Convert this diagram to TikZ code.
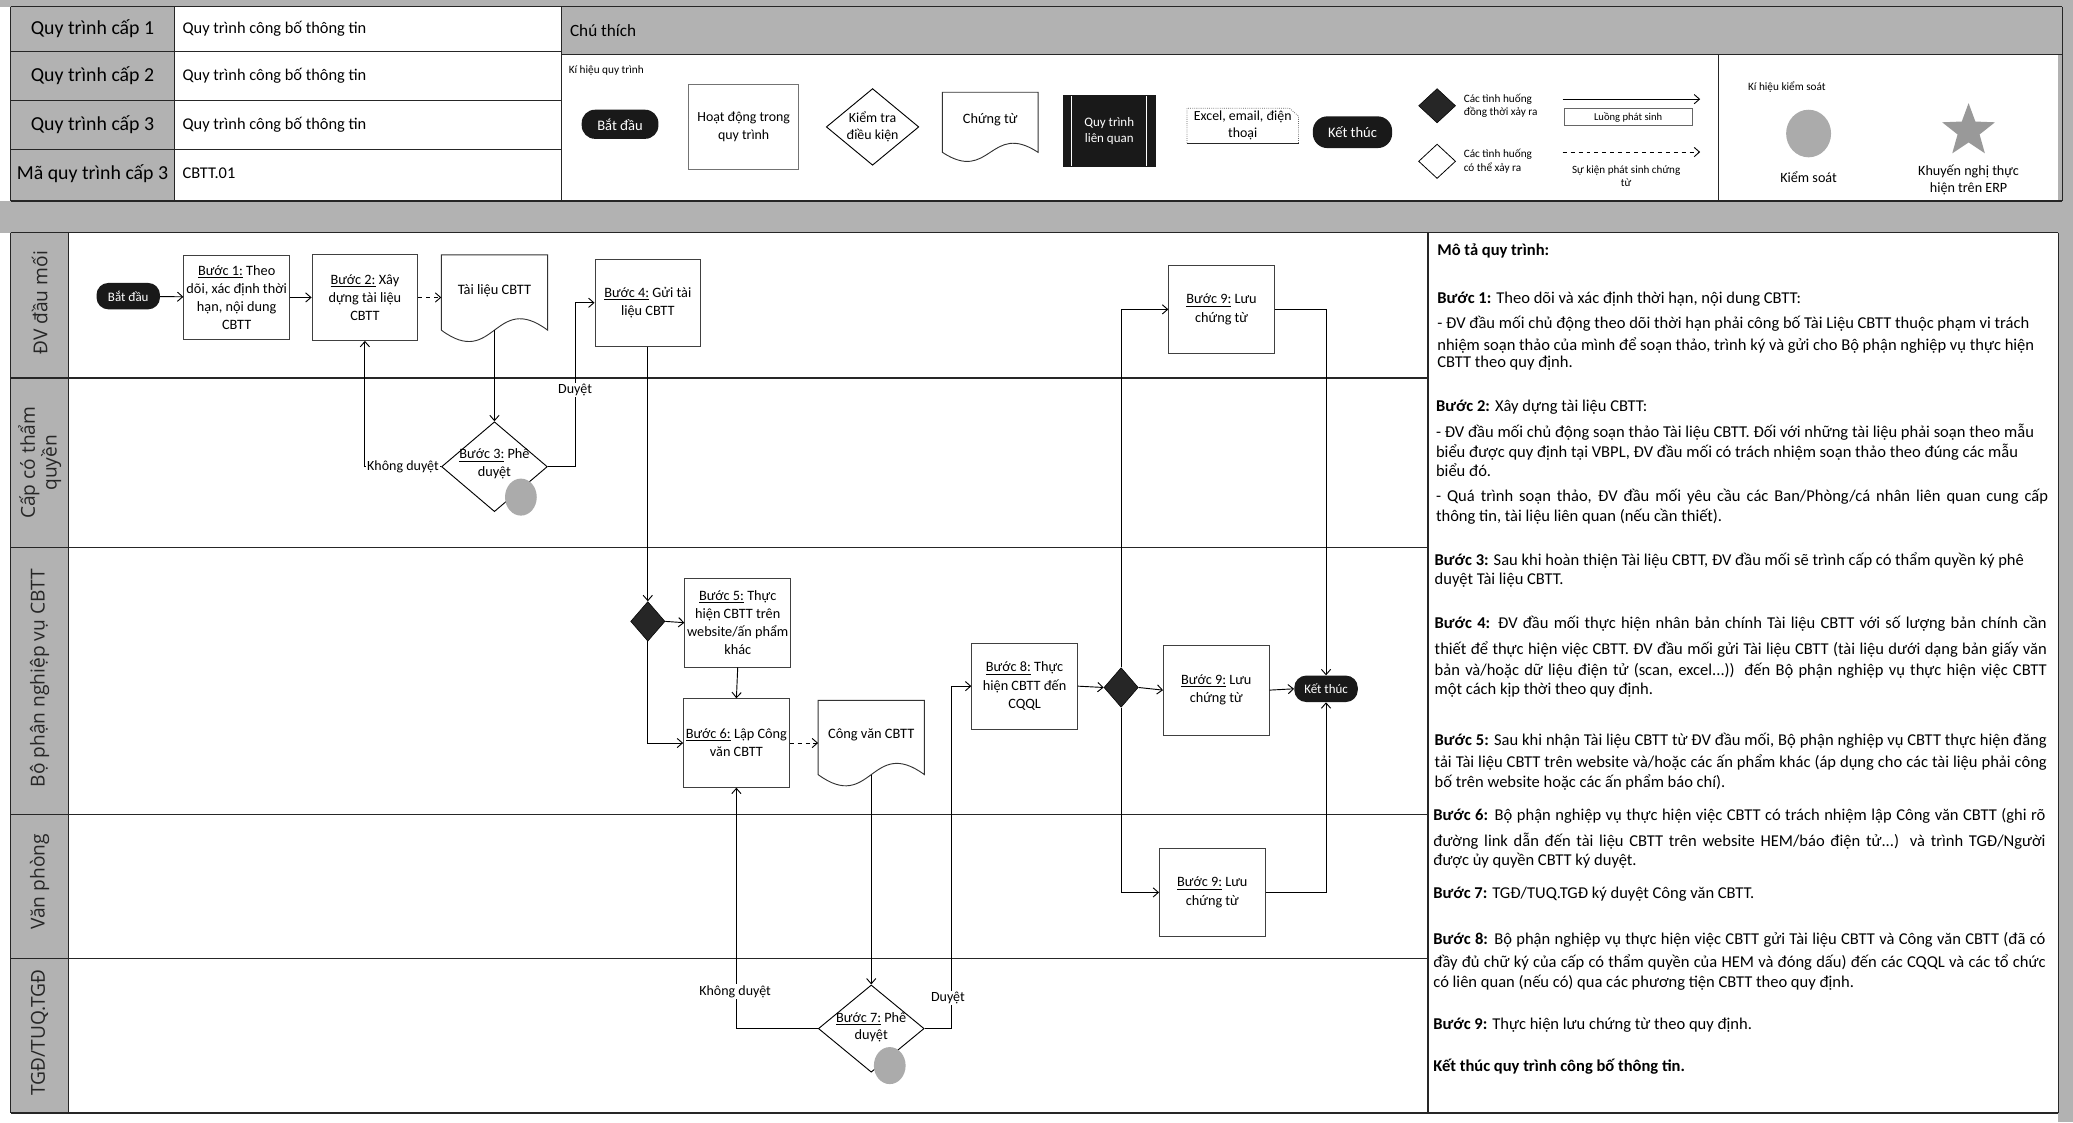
\documentclass[tikz,border=0pt]{standalone}
\usepackage{fontspec}
\setmainfont{Carlito}
\newfontfamily\lanefont{Open Sans}
\usetikzlibrary{shapes.geometric,arrows.meta,calc}
\newcommand\docshape[1]{%
  \filldraw[docline] (#1.north west) -- (#1.north east) -- ($(#1.south east)!0.18!(#1.north east)$)
    .. controls ($(#1.south)!0.61!(#1.north)$) and ($(#1.south)!-0.25!(#1.north)$) ..
    ($(#1.south west)!0.18!(#1.north west)$) -- cycle;}
\newcommand\jl[1]{\makebox[463pt][s]{#1}}
\begin{document}
\begin{tikzpicture}[x=1pt,y=-1pt,
  every node/.style={inner sep=0pt},
  graybg/.style={fill=black!30},
  grid/.style={draw=black!85, line width=0.9pt},
  lane/.style={draw=black!85, line width=1.1pt},
  box/.style={draw=black!75, line width=0.6pt, fill=white, minimum width=80pt, minimum height=66pt, align=center, font=\fontsize{10.8}{13.8}\selectfont},
  term/.style={fill=black!90, rounded corners=9pt, minimum width=48pt, minimum height=20pt, text=white, font=\fontsize{9.8}{10}\selectfont},
  dec/.style={draw=black, line width=0.7pt, fill=white, shape=diamond, minimum width=80pt, minimum height=68pt},
  dectext/.style={align=center, font=\fontsize{10.8}{13.5}\selectfont},
  bdec/.style={draw=black, fill=black!85, shape=diamond, minimum width=26pt, minimum height=30pt},
  docline/.style={draw=black!80, line width=0.7pt, fill=white},
  docbox/.style={minimum width=80pt, minimum height=68pt},
  flow/.style={line width=0.7pt, -{Straight Barb[length=4pt,width=7pt]}},
  dflow/.style={flow, dashed},
  lbl/.style={fill=white, inner sep=1pt, font=\fontsize{10.6}{11}\selectfont},
  ctrl/.style={ellipse, fill=black!33, minimum width=24pt, minimum height=28pt},
  hlab/.style={font=\fontsize{15}{17}\selectfont},
  hval/.style={anchor=west, font=\fontsize{12.4}{14}\selectfont},
  lanelab/.style={rotate=90, align=center, text=black!85, font=\lanefont\fontsize{14.5}{16.5}\selectfont},
  small/.style={font=\fontsize{8.5}{10.5}\selectfont, align=left},
  desc/.style={anchor=west, font=\fontsize{12.5}{14}\selectfont}
]
\useasboundingbox (0,0) rectangle (1568,849);
\fill[white] (0,0) rectangle (1568,849);
% gray regions
\fill[graybg] (0,0) rectangle (1568,5);
\fill[graybg] (0,152) rectangle (1568,176);
\fill[graybg] (8,5) rectangle (132,152);
\fill[graybg] (425,5) rectangle (1560,41);
\fill[graybg] (1557,0) rectangle (1568,849);
\fill[graybg] (8,176) rectangle (52,842);
% header grid
\draw[grid] (8,5) -- (1560,5);
\draw[grid] (8,39) -- (425,39);
\draw[grid] (425,41) -- (1560,41);
\draw[grid] (8,76) -- (425,76);
\draw[grid] (8,113) -- (425,113);
\draw[grid] (8,152) -- (1560,152);
\draw[grid] (8,5) -- (8,152);
\draw[grid] (132,5) -- (132,152);
\draw[grid] (425,5) -- (425,152);
\draw[grid] (1560,5) -- (1560,152);
\draw[grid] (1300,41) -- (1300,152);
% header texts
\node[hlab] (h1) at (70,22) {Quy trình cấp 1};
\node[hlab] (h2) at (70,57.5) {Quy trình cấp 2};
\node[hlab] (h3) at (70,94.5) {Quy trình cấp 3};
\node[hlab] (h4) at (70,131) {Mã quy trình cấp 3};
\node[hval] (v1) at (138,22) {Quy trình công bố thông tin};
\node[hval] (v2) at (138,57.5) {Quy trình công bố thông tin};
\node[hval] (v3) at (138,94.5) {Quy trình công bố thông tin};
\node[hval] (v4) at (138,131) {CBTT.01};
\node[hval, font=\fontsize{13}{15}\selectfont] (chuthich) at (431,23) {Chú thích};
% legend
\node[small, anchor=west] (kqt) at (430,53) {Kí hiệu quy trình};
\node[term, minimum width=58pt, minimum height=22pt, rounded corners=10pt, font=\fontsize{11}{12}\selectfont] (lgstart) at (469,94) {Bắt đầu};
\node[box, draw=black!55, line width=0.5pt, minimum width=83pt, minimum height=64pt, font=\fontsize{10.5}{13.5}\selectfont] (lgact) at (562.5,96) {Hoạt động trong\\quy trình};
\node[dec, minimum width=70pt, minimum height=58pt] (lgdec) at (660,96) {};
\node[dectext, font=\fontsize{10.5}{13}\selectfont] (lgdect) at (660,96) {Kiểm tra\\điều kiện};
\node[docbox, minimum width=72pt, minimum height=55pt] (lgdoc) at (749,97.5) {};
\docshape{lgdoc}
\node[font=\fontsize{10.8}{12}\selectfont] (lgdoct) at ($(lgdoc.north)+(0,21)$) {Chứng từ};
\node[fill=black!90, minimum width=70pt, minimum height=54pt, text=white, align=center, font=\fontsize{9.8}{12.5}\selectfont] (lgrel) at (839,99) {Quy trình\\liên quan};
\draw[white, line width=0.8pt] ($(lgrel.north west)+(7,1)$) -- ($(lgrel.south west)+(7,-1)$);
\draw[white, line width=0.8pt] ($(lgrel.north east)+(-7,1)$) -- ($(lgrel.south east)+(-7,-1)$);
\node[minimum width=84pt, minimum height=26pt, align=center, font=\fontsize{10.5}{12.5}\selectfont] (lgxl) at (940,95) {Excel, email, điện\\thoại};
\draw[black!60, densely dotted, line width=0.6pt] (lgxl.south west) -- (lgxl.north west) -- ($(lgxl.north east)+(-7,0)$) -- ($(lgxl.north east)+(0,6)$) -- (lgxl.south east);
\draw[black!85, line width=0.8pt] (lgxl.south west) -- (lgxl.south east);
\node[term, minimum width=60pt, minimum height=24pt, rounded corners=11pt, font=\fontsize{11}{12}\selectfont] (lgend) at (1023,100) {Kết thúc};
\node[bdec, minimum width=28pt, minimum height=26pt] (lgbd) at (1087,80) {};
\node[small, anchor=west] (lgbdt) at (1107,80) {Các tình huống\\đồng thời xảy ra};
\node[draw=black, line width=0.6pt, fill=white, shape=diamond, minimum width=28pt, minimum height=26pt] (lgwd) at (1087,122) {};
\node[small, anchor=west] (lgwdt) at (1107,122) {Các tình huống\\có thể xảy ra};
\coordinate (la1) at (1182,75); \coordinate (la2) at (1286,75);
\draw[flow] (la1) -- (la2);
\node[draw=black!60, line width=0.5pt, minimum width=97pt, minimum height=13pt, font=\fontsize{8}{9}\selectfont] (lgls) at (1231.5,88.5) {Luồng phát sinh};
\coordinate (lb1) at (1182,115); \coordinate (lb2) at (1286,115);
\draw[dflow] (lb1) -- (lb2);
\node[align=center, font=\fontsize{8.4}{10}\selectfont] (lgsk) at (1230,133) {Sự kiện phát sinh chứng\\từ};
\node[small, anchor=west] (khks) at (1322,66) {Kí hiệu kiểm soát};
\node[ctrl, minimum width=34pt, minimum height=36pt] (lgk) at (1368,101) {};
\node[font=\fontsize{10.7}{12}\selectfont] (lgkt) at (1368,134) {Kiểm soát};
\node[star, star points=5, star point ratio=2.4, fill=black!40, minimum size=42pt] (lgstar) at (1489,99) {};
\node[align=center, font=\fontsize{10.7}{12.5}\selectfont] (lgstart2) at (1489,136) {Khuyến nghị thực\\hiện trên ERP};
% lanes frame
\draw[lane] (8,176) -- (1557,176);
\draw[lane] (8,842) -- (1557,842);
\draw[lane] (8,176) -- (8,842);
\draw[lane] (52,176) -- (52,842);
\draw[lane] (1080,176) -- (1080,842);
\draw[lane] (1557,176) -- (1557,842);
\draw[lane] (8,286) -- (1080,286);
\draw[lane] (8,414) -- (1080,414);
\draw[lane] (8,616) -- (1080,616);
\draw[lane] (8,725) -- (1080,725);
\node[lanelab] (l1) at (30,229) {ĐV đầu mối};
\node[lanelab] (l2) at (30,350) {Cấp có thẩm\\quyền};
\node[lanelab] (l3) at (30,513) {Bộ phận nghiệp vụ CBTT};
\node[lanelab] (l4) at (30,667) {Văn phòng};
\node[lanelab] (l5) at (30,781) {TGĐ/TUQ.TGĐ};
% flow nodes
\node[term] (start) at (97,224) {Bắt đầu};
\node[box, minimum height=64pt] (b1) at (179,225) {\underline{Bước 1:} Theo\\dõi, xác định thời\\hạn, nội dung\\CBTT};
\node[box, minimum height=65pt] (b2) at (276,225) {\underline{Bước 2:} Xây\\dựng tài liệu\\CBTT};
\node[docbox, minimum height=69pt] (tl) at (374,227.5) {};
\docshape{tl}
\node[font=\fontsize{10.9}{12}\selectfont] (tlt) at ($(tl.north)+(0,27)$) {Tài liệu CBTT};
\node[box] (b4) at (490,229) {\underline{Bước 4:} Gửi tài\\liệu CBTT};
\node[dec] (b3) at (374,353) {};
\node[dectext] (b3t) at (374,351) {\underline{Bước 3:} Phê\\duyệt};
\node[ctrl] (k3) at (394,376) {};
\node[bdec] (d1) at (490,470) {};
\node[box, minimum height=67pt] (b5) at (558,471) {\underline{Bước 5:} Thực\\hiện CBTT trên\\website/ấn phẩm\\khác};
\node[box, minimum height=67pt] (b6) at (557,562) {\underline{Bước 6:} Lập Công\\văn CBTT};
\node[docbox] (cv) at (659,564) {};
\docshape{cv}
\node[font=\fontsize{10.9}{12}\selectfont] (cvt) at ($(cv.north)+(0,26)$) {Công văn CBTT};
\node[dec, minimum height=66pt] (b7) at (659,778) {};
\node[dectext] (b7t) at (659,777) {\underline{Bước 7:} Phê\\duyệt};
\node[ctrl] (k7) at (673,806) {};
\node[box, minimum height=65pt] (b8) at (775,519) {\underline{Bước 8:} Thực\\hiện CBTT đến\\CQQL};
\node[bdec] (d2) at (848,520) {};
\node[box, minimum height=67pt] (b9a) at (924,234) {\underline{Bước 9:} Lưu\\chứng từ};
\node[box, minimum height=68pt] (b9b) at (920,522) {\underline{Bước 9:} Lưu\\chứng từ};
\node[box, minimum height=67pt] (b9c) at (917,675) {\underline{Bước 9:} Lưu\\chứng từ};
\node[term] (end) at (1003,521) {Kết thúc};
% connectors
\coordinate (tlb) at ($(tl.south)!0.18!(tl.north)$);
\coordinate (cvb) at ($(cv.south)!0.18!(cv.north)$);
\coordinate (j1) at (435,353);
\coordinate (j2) at (720,778);
\draw[flow] (start) -- (b1);
\draw[flow] (b1) -- (b2);
\draw[dflow] (b2.east) -- (b2.east -| tl.west);
\draw[flow] (tlb) -- (b3.north);
\draw[flow] (b3.west) -| node[lbl, pos=0.25] (kd1) {Không duyệt} (b2.south);
\draw[flow] (b3.east) -- (j1) |- (b4.west);
\node[lbl] (dy1) at (435,295) {Duyệt};
\draw[flow] (b4.south) -- (d1.north);
\draw[flow] (d1.east) -- (b5.west);
\draw[flow] (d1.south) |- (b6.west);
\draw[flow] (b5.south) -- (b6.north);
\draw[dflow] (b6.east) -- (b6.east -| cv.west);
\draw[flow] (cvb) -- (b7.north);
\draw[flow] (b7.west) -| (b6.south);
\node[lbl] (kd2) at (556,750) {Không duyệt};
\draw[flow] (b7.east) -- (j2) |- (b8.west);
\node[lbl] (dy2) at (717,755) {Duyệt};
\draw[flow] (b8.east) -- (d2.west);
\draw[flow] (d2.east) -- (b9b.west);
\draw[flow] (d2.north) |- (b9a.west);
\draw[flow] (d2.south) |- (b9c.west);
\draw[flow] (b9b.east) -- (end.west);
\draw[flow] (b9a.east) -| (end.north);
\draw[flow] (b9c.east) -| (end.south);
% description
\node[desc] (d00) at (1087,190) {\textbf{Mô tả quy trình:}};
\node[desc] (d01) at (1087,226) {\textbf{Bước 1:} Theo dõi và xác định thời hạn, nội dung CBTT:};
\node[desc] (d02) at (1087,245) {- ĐV đầu mối chủ động theo dõi thời hạn phải công bố Tài Liệu CBTT thuộc phạm vi trách};
\node[desc] (d03) at (1087,261) {nhiệm soạn thảo của mình để soạn thảo, trình ký và gửi cho Bộ phận nghiệp vụ thực hiện};
\node[desc] (d04) at (1087,275) {CBTT theo quy định.};
\node[desc] (d05) at (1086,308) {\textbf{Bước 2:} Xây dựng tài liệu CBTT:};
\node[desc] (d06) at (1086,327) {- ĐV đầu mối chủ động soạn thảo Tài liệu CBTT. Đối với những tài liệu phải soạn theo mẫu};
\node[desc] (d07) at (1086,342) {biểu được quy định tại VBPL, ĐV đầu mối có trách nhiệm soạn thảo theo đúng các mẫu};
\node[desc] (d08) at (1086,356) {biểu đó.};
\node[desc] (d09) at (1086,376) {\jl{- Quá trình soạn thảo, ĐV đầu mối yêu cầu các Ban/Phòng/cá nhân liên quan cung cấp}};
\node[desc] (d10) at (1086,391) {thông tin, tài liệu liên quan (nếu cần thiết).};
\node[desc] (d11) at (1085,424) {\textbf{Bước 3:} Sau khi hoàn thiện Tài liệu CBTT, ĐV đầu mối sẽ trình cấp có thẩm quyền ký phê};
\node[desc] (d12) at (1085,439) {duyệt Tài liệu CBTT.};
\node[desc] (d13) at (1085,472) {\jl{\textbf{Bước 4:} ĐV đầu mối thực hiện nhân bản chính Tài liệu CBTT với số lượng bản chính cần}};
\node[desc] (d14) at (1085,491) {\jl{thiết để thực hiện việc CBTT. ĐV đầu mối gửi Tài liệu CBTT (tài liệu dưới dạng bản giấy văn}};
\node[desc] (d15) at (1085,507) {\jl{bản và/hoặc dữ liệu điện tử (scan, excel...)) đến Bộ phận nghiệp vụ thực hiện việc CBTT}};
\node[desc] (d16) at (1085,522) {một cách kịp thời theo quy định.};
\node[desc] (d17) at (1085,560) {\jl{\textbf{Bước 5:} Sau khi nhận Tài liệu CBTT từ ĐV đầu mối, Bộ phận nghiệp vụ CBTT thực hiện đăng}};
\node[desc] (d18) at (1085,577) {\jl{tải Tài liệu CBTT trên website và/hoặc các ấn phẩm khác (áp dụng cho các tài liệu phải công}};
\node[desc] (d19) at (1085,592) {bố trên website hoặc các ấn phẩm báo chí).};
\node[desc] (d20) at (1084,617) {\jl{\textbf{Bước 6:} Bộ phận nghiệp vụ thực hiện việc CBTT có trách nhiệm lập Công văn CBTT (ghi rõ}};
\node[desc] (d21) at (1084,636) {\jl{đường link dẫn đến tài liệu CBTT trên website HEM/báo điện tử...) và trình TGĐ/Người}};
\node[desc] (d22) at (1084,651) {được ủy quyền CBTT ký duyệt.};
\node[desc] (d23) at (1084,676) {\textbf{Bước 7:} TGĐ/TUQ.TGĐ ký duyệt Công văn CBTT.};
\node[desc] (d24) at (1084,711) {\jl{\textbf{Bước 8:} Bộ phận nghiệp vụ thực hiện việc CBTT gửi Tài liệu CBTT và Công văn CBTT (đã có}};
\node[desc] (d25) at (1084,728) {\jl{đầy đủ chữ ký của cấp có thẩm quyền của HEM và đóng dấu) đến các CQQL và các tổ chức}};
\node[desc] (d26) at (1084,743) {có liên quan (nếu có) qua các phương tiện CBTT theo quy định.};
\node[desc] (d27) at (1084,775) {\textbf{Bước 9:} Thực hiện lưu chứng từ theo quy định.};
\node[desc] (d28) at (1084,807) {\textbf{Kết thúc quy trình công bố thông tin.}};
\end{tikzpicture}
\end{document}
